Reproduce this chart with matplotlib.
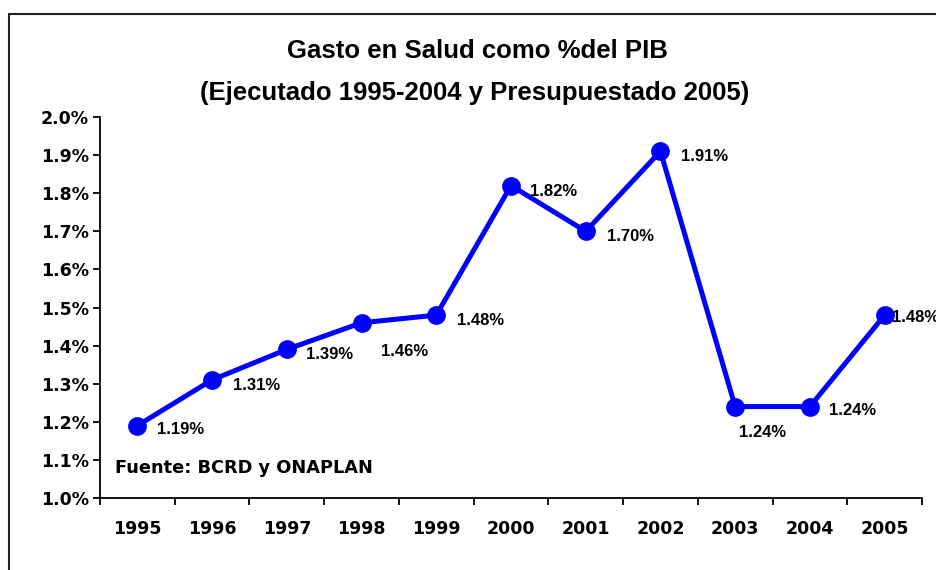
import matplotlib
matplotlib.use('Agg')
import matplotlib.pyplot as plt
from matplotlib.patches import Rectangle
from matplotlib.ticker import FixedLocator, FuncFormatter

years = ['1995', '1996', '1997', '1998', '1999', '2000',
         '2001', '2002', '2003', '2004', '2005']
gasto = [1.19, 1.31, 1.39, 1.46, 1.48, 1.82, 1.70, 1.91, 1.24, 1.24, 1.48]
labels = ['1.19%', '1.31%', '1.39%', '1.46%', '1.48%', '1.82%',
          '1.70%', '1.91%', '1.24%', '1.24%', '1.48%']
# label offsets in points (dx, dy)
offsets = [(31, -3), (32, -4), (31, -4), (31, -21), (32, -4), (31, -4),
           (32, -4), (32, -4), (20, -19), (31, -3), (22, -2)]

plt.rcParams['font.family'] = ['Liberation Sans', 'DejaVu Sans']

fig = plt.figure(figsize=(9.37, 5.70), dpi=100)
ax = fig.add_axes([0.1067, 0.1263, 0.8773, 0.6684])

x = list(range(len(years)))
ax.plot(x, gasto, color='#0000ff', lw=3.6, marker='o', ms=12.5, zorder=3)

for xi, v, lab, (dx, dy) in zip(x, gasto, labels, offsets):
    ax.annotate(lab, (xi, v), xytext=(dx, dy), textcoords='offset points',
                ha='center', va='center', fontsize=12, fontweight='bold')

ax.set_xlim(-0.5, len(years) - 0.5)
ax.set_ylim(1.0, 2.0)
ax.set_yticks([1.0 + 0.1 * i for i in range(11)])
ax.yaxis.set_major_formatter(FuncFormatter(lambda v, p: f'{v:.1f}%'))

ax.xaxis.set_major_locator(FixedLocator([i - 0.5 for i in range(len(years) + 1)]))
ax.xaxis.set_major_formatter(FuncFormatter(lambda v, p: ''))
ax.xaxis.set_minor_locator(FixedLocator(x))
ax.set_xticklabels(years, minor=True)
ax.tick_params(axis='x', which='major', direction='out', length=5, width=1.3)
ax.tick_params(axis='x', which='minor', length=0, pad=16)
ax.tick_params(axis='y', direction='out', length=5, width=1.3, pad=3)

for t in ax.get_xticklabels(minor=True) + ax.get_yticklabels():
    t.set_family(['DejaVu Sans'])
    t.set_fontweight('bold')
    t.set_fontsize(12.5)

for s in ['top', 'right']:
    ax.spines[s].set_visible(False)
for s in ['left', 'bottom']:
    ax.spines[s].set_linewidth(1.3)

ax.text(0.018, 0.08, 'Fuente: BCRD y ONAPLAN', transform=ax.transAxes,
        ha='left', va='center', fontsize=12.8, fontweight='bold',
        family=['DejaVu Sans'])

fig.text(0.51, 0.911, 'Gasto en Salud como %del PIB', ha='center', va='center',
         fontsize=18.5, fontweight='bold')
fig.text(0.507, 0.836, '(Ejecutado 1995-2004 y Presupuestado 2005)',
         ha='center', va='center', fontsize=18.5, fontweight='bold')

frame = Rectangle((0.0096, -0.2), 1.2, 0.2 + 0.9754, transform=fig.transFigure,
                  fill=False, edgecolor='#222222', lw=1.5, clip_on=False)
fig.patches.append(frame)

fig.savefig('out.png', dpi=100)
